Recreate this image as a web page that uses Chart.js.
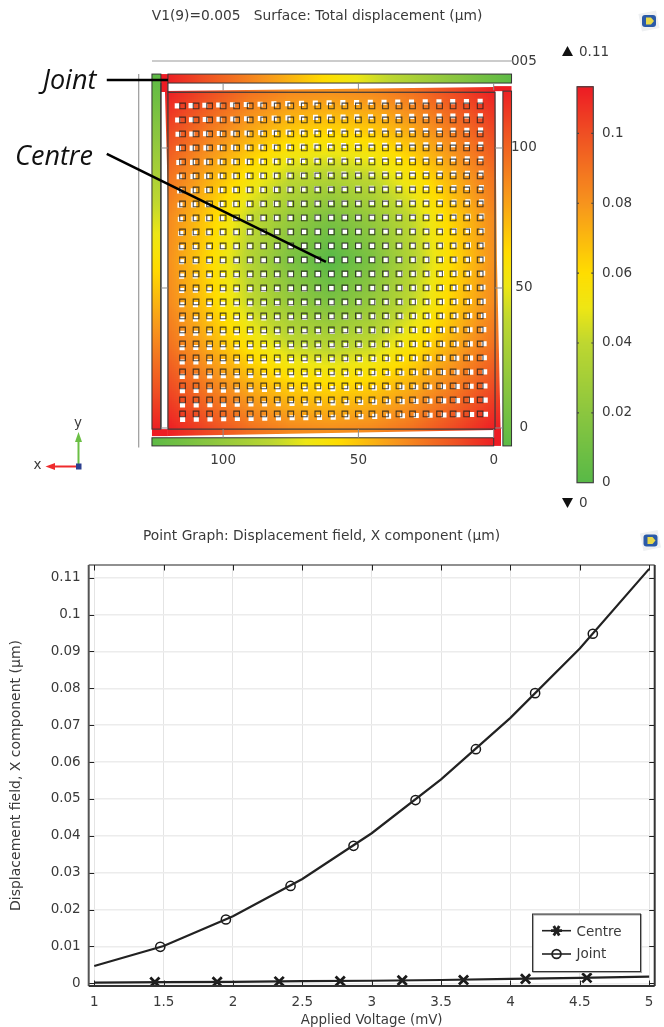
<!DOCTYPE html>
<html><head><meta charset="utf-8">
<style>html,body{margin:0;padding:0;background:#fff;overflow:hidden}canvas{position:absolute;display:block}</style>
<script src="https://cdn.jsdelivr.net/npm/chart.js@4/dist/chart.umd.min.js"></script>
</head><body>
<canvas id="surface" width="664" height="520" style="left:0;top:0"></canvas>
<canvas id="bar" width="104" height="440" style="left:560px;top:70px"></canvas>
<canvas id="graph" width="664" height="507" style="left:0;top:520px"></canvas>
<script>
// ---- values ----
const voltageTicks = [1,1.5,2,2.5,3,3.5,4,4.5,5];
const displacementTicks = [0,0.01,0.02,0.03,0.04,0.05,0.06,0.07,0.08,0.09,0.1,0.11];
const jointVoltage = [1,1.5,2,2.5,3,3.5,4,4.5,5];
const jointValues  = [0.0047,0.0101,0.0182,0.0283,0.0407,0.0553,0.0720,0.0908,0.1124];
const jointMarkerVoltage = [1.476,1.949,2.415,2.869,3.316,3.751,4.178,4.594];
const jointMarkerValues  = [0.0099,0.0173,0.0264,0.0373,0.0497,0.0635,0.0787,0.0948];
const centreVoltage = [1,1.5,2,2.5,3,3.5,4,4.5,5];
const centreValues  = [0.0002,0.0003,0.0004,0.0006,0.0007,0.0009,0.0012,0.0015,0.0018];
const centreMarkerVoltage = [1.437,1.886,2.333,2.773,3.22,3.662,4.109,4.551];
const centreMarkerValues  = [0.0003,0.0004,0.0005,0.0006,0.0008,0.0009,0.0012,0.0015];
const seriesNames = ['Centre','Joint'];

// ---- values (µm and µm displacement) ----
const surfaceXTicks = [0,50,100];
const surfaceYTicks = [0,50,100];
const fieldGrid = [0,15,30,45,60,75,90,105,120];
const fieldValues = [ // rows y=0..120, columns x=0..120
 [0.112,0.101,0.090,0.083,0.081,0.083,0.090,0.101,0.112],
 [0.101,0.086,0.073,0.064,0.061,0.064,0.073,0.086,0.101],
 [0.090,0.073,0.056,0.041,0.036,0.041,0.056,0.073,0.090],
 [0.083,0.064,0.041,0.024,0.014,0.024,0.041,0.064,0.083],
 [0.081,0.061,0.036,0.014,0.000,0.014,0.036,0.061,0.081],
 [0.083,0.064,0.041,0.024,0.014,0.024,0.041,0.064,0.083],
 [0.090,0.073,0.056,0.041,0.036,0.041,0.056,0.073,0.090],
 [0.101,0.086,0.073,0.064,0.061,0.064,0.073,0.086,0.101],
 [0.112,0.101,0.090,0.083,0.081,0.083,0.090,0.101,0.112]];
const holeX = [5,10,15,20,25,30,35,40,45,50,55,60,65,70,75,80,85,90,95,100,105,110,115];
const holeY = [5,10,15,20,25,30,35,40,45,50,55,60,65,70,75,80,85,90,95,100,105,110,115];
const shiftGrid = [0,60,120];
const holeShiftX = [[-2.2,-0.75,0],[-0.9,0,0.4],[0,0.9,2.2]];
const holeShiftY = [[0,-1.25,-2.1],[0.35,0,-0.7],[1.8,1.25,0]];
const colourValues = [0,0.02,0.04,0.05,0.06,0.08,0.1,0.113];
const colourStops = [[88,185,71],[139,198,63],[190,215,48],[238,230,20],[255,221,0],[247,148,29],[239,79,35],[237,28,36]];
const colourbarTicks = [0,0.02,0.04,0.06,0.08,0.1];
const colourbarMax = '0.11', colourbarMin = '0';

// ---- helpers ----
const FONT = '"DejaVu Sans"';
const INK = '#3a3a3a';
function colourFor(v){
  if(v<=colourValues[0]) return `rgb(${colourStops[0]})`;
  for(let i=1;i<colourValues.length;i++){
    if(v<=colourValues[i]){
      const t=(v-colourValues[i-1])/(colourValues[i]-colourValues[i-1]);
      const a=colourStops[i-1],b=colourStops[i];
      return `rgb(${a.map((c,k)=>Math.round(c+(b[k]-c)*t))})`;
    }
  }
  return `rgb(${colourStops[colourStops.length-1]})`;
}
function lerp1(grid,vals,x){
  const n=grid.length; x=Math.max(grid[0],Math.min(grid[n-1],x));
  let i=0; while(i<n-2&&x>grid[i+1]) i++;
  const t=(x-grid[i])/(grid[i+1]-grid[i]);
  return vals[i]+(vals[i+1]-vals[i])*t;
}
function lerp2(grid,table,x,y){
  return lerp1(grid,table.map(r=>lerp1(grid,r,x)),y);
}
function text(ctx,s,x,y,font,color,align){
  ctx.save();ctx.font=font;ctx.fillStyle=color||INK;ctx.textAlign=align||'left';ctx.textBaseline='middle';
  ctx.fillText(s,x,y);ctx.restore();
}
function logo(ctx,x,y){
  ctx.save();ctx.translate(x,y);
  ctx.save();ctx.rotate(-0.2);ctx.fillStyle='#eef0f2';ctx.fillRect(-9,-9,18,18);ctx.restore();
  ctx.fillStyle='#2a5aa8';ctx.beginPath();ctx.roundRect(-7,-6,14,12,3);ctx.fill();
  ctx.fillStyle='#e8d94a';ctx.beginPath();ctx.moveTo(-3,-3.5);ctx.lineTo(2,-3.5);ctx.lineTo(5,0);ctx.lineTo(2,3.5);ctx.lineTo(-3,3.5);ctx.closePath();ctx.fill();
  ctx.restore();
}

// ---- surface plot: field, beams and annotations are drawn through the chart's scales ----
const beams = [ // x0,x1,y0,y1 in µm; values run along 'along'
 {x:[126.3,123],  y:[-0.4,126.4], along:'y', v:[0.112,0.055,0.002]},
 {x:[120.4,-6.6], y:[123.2,126.4],along:'x', v:[0.112,0.055,0.002]},
 {x:[-3.4,-6.6],  y:[-6.4,120.3], along:'y', v:[0.002,0.055,0.112]},
 {x:[126.3,0],    y:[-6.4,-3.5],  along:'x', v:[0.002,0.055,0.112]}
];
const redStrips = [
 {x:[123,120.4], y:[120,126.4]},
 {x:[0,-6.6],    y:[120.3,122.1]},
 {x:[126.3,120.4],y:[-2.9,-0.4]},
 {x:[0,-2.7],    y:[-6.4,0]}
];
const plateOutline = [[121.5,120.4],[-0.5,121.8],[-1.2,60],[-2.7,-6.4],[-0.5,-0.7],[120.4,-2.9],[120.4,81.4]];
const surfacePlugin = {
  id:'surface',
  beforeDatasetsDraw(chart){
    const {ctx,scales:{x:sx,y:sy}}=chart;
    const X=v=>sx.getPixelForValue(v),Y=v=>sy.getPixelForValue(v);
    ctx.save();
    // axis frame
    ctx.strokeStyle='#9a9a9a';ctx.lineWidth=1.2;
    ctx.beginPath();ctx.moveTo(X(131.2),Y(126.4));ctx.lineTo(X(131.2),Y(-7));
    ctx.moveTo(X(126.3),Y(131.07));ctx.lineTo(X(-7.1),Y(131.07));ctx.stroke();
    // plate field, deformed outline
    ctx.save();ctx.beginPath();
    plateOutline.forEach((p,i)=>i?ctx.lineTo(X(p[0]),Y(p[1])):ctx.moveTo(X(p[0]),Y(p[1])));
    ctx.closePath();ctx.clip();
    for(let px=Math.floor(X(123));px<X(-4);px+=2){
      for(let py=Math.floor(Y(123));py<Y(-7);py+=2){
        ctx.fillStyle=colourFor(lerp2(fieldGrid,fieldValues,sx.getValueForPixel(px+1),sy.getValueForPixel(py+1)));
        ctx.fillRect(px,py,2,2);
      }
    }
    ctx.restore();
    // beams
    const red=colourFor(0.113);
    redStrips.forEach(s=>{ctx.fillStyle=red;ctx.fillRect(X(s.x[0]),Y(s.y[1]),X(s.x[1])-X(s.x[0]),Y(s.y[0])-Y(s.y[1]));});
    beams.forEach(b=>{
      const x0=X(b.x[0]),x1=X(b.x[1]),y0=Y(b.y[1]),y1=Y(b.y[0]);
      const g=b.along==='x'?ctx.createLinearGradient(x0,0,x1,0):ctx.createLinearGradient(0,y1,0,y0);
      const vs=b.v;
      for(let k=0;k<=40;k++){
        const t=k/40,f=t*(vs.length-1),i=Math.min(vs.length-2,Math.floor(f));
        g.addColorStop(t,colourFor(vs[i]+(vs[i+1]-vs[i])*(f-i)));
      }
      ctx.fillStyle=g;ctx.fillRect(x0,y0,x1-x0,y1-y0);
      ctx.strokeStyle='#333';ctx.lineWidth=1;ctx.strokeRect(x0,y0,x1-x0,y1-y0);
    });
    // undeformed outlines
    ctx.strokeStyle='#3b3b3b';ctx.lineWidth=1.2;
    ctx.strokeRect(X(120.4),Y(119.9),X(-0.5)-X(120.4),Y(-0.4)-Y(119.9));
    ctx.beginPath();ctx.moveTo(X(123),Y(123.2));ctx.lineTo(X(123),Y(-0.4));ctx.moveTo(X(120.4),Y(123.2));ctx.lineTo(X(120.4),Y(119.9));ctx.stroke();
    ctx.strokeStyle='#8c8c8c';ctx.lineWidth=1;
    ctx.beginPath();
    surfaceXTicks.forEach(v=>{ctx.moveTo(X(v),Y(120.6));ctx.lineTo(X(v),Y(123.2));ctx.moveTo(X(v),Y(-0.4));ctx.lineTo(X(v),Y(-3.5));});
    surfaceYTicks.forEach(v=>{ctx.moveTo(X(123),Y(v));ctx.lineTo(X(120.4),Y(v));ctx.moveTo(X(-0.5),Y(v));ctx.lineTo(X(-3.4),Y(v));});
    ctx.stroke();
    ctx.restore();
  },
  afterDraw(chart){
    const {ctx,scales:{x:sx,y:sy}}=chart;
    const X=v=>sx.getPixelForValue(v),Y=v=>sy.getPixelForValue(v);
    ctx.save();
    // annotation leaders
    ctx.strokeStyle='#000';ctx.lineWidth=2.6;ctx.lineCap='butt';
    ctx.beginPath();
    ctx.moveTo(X(143),Y(124.3));ctx.lineTo(X(120.4),Y(124.3));
    ctx.moveTo(X(143),Y(97.9));ctx.lineTo(X(62),Y(59.3));
    ctx.stroke();
    const lab='italic 27px "Open Sans"';
    text(ctx,'Joint',69.5,81,lab,'#111','center');
    text(ctx,'Centre',54,157,lab,'#111','center');
    // title
    text(ctx,'V1(9)=0.005   Surface: Total displacement (µm)',317,16.5,'13.8px '+FONT,INK,'center');
    // colour-range markers
    ctx.fillStyle='#111';
    ctx.beginPath();ctx.moveTo(562,56);ctx.lineTo(573,56);ctx.lineTo(567.5,46);ctx.closePath();ctx.fill();
    ctx.beginPath();ctx.moveTo(562,498);ctx.lineTo(573,498);ctx.lineTo(567.5,508);ctx.closePath();ctx.fill();
    text(ctx,colourbarMax,579,52,'13.5px '+FONT,INK);
    text(ctx,colourbarMin,579,503,'13.5px '+FONT,INK);
    // view triad
    ctx.strokeStyle='#6bbf45';ctx.fillStyle='#6bbf45';ctx.lineWidth=2;
    ctx.beginPath();ctx.moveTo(78.5,466);ctx.lineTo(78.5,440);ctx.stroke();
    ctx.beginPath();ctx.moveTo(75,442);ctx.lineTo(82,442);ctx.lineTo(78.5,432);ctx.closePath();ctx.fill();
    ctx.strokeStyle='#ef2b2d';ctx.fillStyle='#ef2b2d';
    ctx.beginPath();ctx.moveTo(78,466.5);ctx.lineTo(52,466.5);ctx.stroke();
    ctx.beginPath();ctx.moveTo(55,463);ctx.lineTo(55,470);ctx.lineTo(45.5,466.5);ctx.closePath();ctx.fill();
    ctx.fillStyle='#2c3f8f';ctx.fillRect(76,463.5,5.5,6);
    text(ctx,'y',78,423,'13.5px '+FONT,INK,'center');
    text(ctx,'x',37.5,465,'13.5px '+FONT,INK,'center');
    logo(ctx,649,21);
    ctx.restore();
  }
};

const whiteHoles=[],outlineHoles=[];
holeY.forEach(y=>holeX.forEach(x=>{
  outlineHoles.push({x,y});
  whiteHoles.push({x:x+lerp2(shiftGrid,holeShiftX,x,y),y:y+lerp2(shiftGrid,holeShiftY,x,y)});
}));
const OFF={animation:false,responsive:false,devicePixelRatio:1};
new Chart(document.getElementById('surface'),{
  type:'scatter',
  data:{datasets:[
    {label:'hole outline',data:outlineHoles,pointStyle:'rect',pointRadius:4,pointBorderWidth:1.1,pointBorderColor:'rgba(30,30,30,0.8)',pointBackgroundColor:'rgba(0,0,0,0)',order:0},
    {label:'deformed hole',data:whiteHoles,pointStyle:'rect',pointRadius:3.6,pointBorderWidth:0,pointBackgroundColor:'#fff',order:1}
  ]},
  plugins:[surfacePlugin],
  options:{...OFF,
    layout:{padding:{left:138.7,right:127,top:61,bottom:42.3}},
    plugins:{legend:{display:false},tooltip:{enabled:false},title:{display:false}},
    scales:{
      x:{type:'linear',reverse:true,min:-6.4,max:131.2,position:'bottom',
        afterBuildTicks(s){s.ticks=surfaceXTicks.map(value=>({value}));},
        afterFit(s){s.height=30;},
        grid:{display:false,drawTicks:false},border:{display:false},
        ticks:{color:INK,font:{family:FONT,size:13.5},padding:5,maxRotation:0,autoSkip:false}},
      y:{type:'linear',min:-7.04,max:131.07,position:'right',
        afterBuildTicks(s){s.ticks=[...surfaceYTicks.map(value=>({value})),{value:131.07}];},
        afterFit(s){s.width=26;},
        grid:{display:false,drawTicks:false},border:{display:false},
        ticks:{color:INK,font:{family:FONT,size:13.5},padding:0,crossAlign:'center',autoSkip:false,
          callback:v=>v>120?'005':String(v)}}
    }
  }
});

// ---- colour bar ----
const colourbarPlugin={
  id:'colourbar',
  beforeDatasetsDraw(chart){
    const {ctx,chartArea:a,scales:{y}}=chart;
    ctx.save();
    for(let py=Math.floor(a.top);py<a.bottom;py++){
      ctx.fillStyle=colourFor(y.getValueForPixel(py+0.5));
      ctx.fillRect(a.left,py,a.right-a.left,1);
    }
    ctx.strokeStyle='#444';ctx.lineWidth=1.2;ctx.strokeRect(a.left,a.top,a.right-a.left,a.bottom-a.top);
    ctx.beginPath();
    colourbarTicks.slice(1).forEach(v=>{const p=y.getPixelForValue(v);
      ctx.moveTo(a.left,p);ctx.lineTo(a.left+2,p);ctx.moveTo(a.right,p);ctx.lineTo(a.right-2,p);});
    ctx.stroke();
    ctx.restore();
  }
};
new Chart(document.getElementById('bar'),{
  type:'scatter',data:{datasets:[{data:[]}]},plugins:[colourbarPlugin],
  options:{...OFF,
    layout:{padding:{left:17,right:0,top:16,bottom:440-412.7}},
    plugins:{legend:{display:false},tooltip:{enabled:false}},
    scales:{
      x:{display:false,min:0,max:1},
      y:{type:'linear',position:'right',min:0,max:0.11334,
        afterBuildTicks(s){s.ticks=colourbarTicks.map(value=>({value}));},
        afterFit(s){s.width=104-33.3;},
        grid:{display:false,drawTicks:false},border:{display:false},
        ticks:{color:INK,font:{family:FONT,size:13.5},padding:8.7,autoSkip:false,callback:v=>String(v)}}
    }
  }
});

// ---- point graph ----
const graphPlugin={
  id:'graphFrame',
  afterDatasetsDraw(chart){
    const {ctx,chartArea:a,scales:{x,y}}=chart;
    ctx.save();
    ctx.strokeStyle='#222';ctx.lineWidth=1;ctx.beginPath();
    voltageTicks.forEach(v=>{const p=Math.round(x.getPixelForValue(v))+.5;
      ctx.moveTo(p,a.top);ctx.lineTo(p,a.top+5.5);ctx.moveTo(p,a.bottom);ctx.lineTo(p,a.bottom-5.5);});
    displacementTicks.forEach(v=>{const p=Math.round(y.getPixelForValue(v))+.5;
      ctx.moveTo(a.left,p);ctx.lineTo(a.left+5.5,p);ctx.moveTo(a.right,p);ctx.lineTo(a.right-5.5,p);});
    ctx.stroke();
    // frame
    ctx.strokeStyle='#222';ctx.lineWidth=1.2;
    ctx.beginPath();ctx.moveTo(a.left,a.top);ctx.lineTo(a.right,a.top);ctx.stroke();
    ctx.strokeStyle='#555';ctx.lineWidth=2;
    ctx.beginPath();ctx.moveTo(a.left,a.top);ctx.lineTo(a.left,a.bottom);ctx.stroke();
    ctx.strokeStyle='#333';
    ctx.beginPath();ctx.moveTo(a.left,a.bottom);ctx.lineTo(a.right,a.bottom);ctx.moveTo(a.right,a.bottom);ctx.lineTo(a.right,a.top);ctx.stroke();
    // legend box
    const bx=532.5,by=394,bw=108,bh=57.5;
    ctx.fillStyle='#fff';ctx.fillRect(bx,by,bw,bh);
    ctx.strokeStyle='#aaa';ctx.lineWidth=1.5;ctx.strokeRect(bx+.8,by+.8,bw,bh);
    ctx.strokeStyle='#333';ctx.lineWidth=1;ctx.strokeRect(bx,by,bw,bh);
    const rows=[410.7,434];
    rows.forEach((ry,i)=>{
      ctx.strokeStyle='#222';ctx.lineWidth=1.6;
      ctx.beginPath();ctx.moveTo(542,ry);ctx.lineTo(571,ry);ctx.stroke();
      ctx.beginPath();
      if(i===0){
        ctx.lineWidth=2.8;
        for(let k=0;k<3;k++){const t=k*Math.PI/3+Math.PI/3;
          ctx.moveTo(556.5-5.5*Math.cos(t),ry-5.5*Math.sin(t));ctx.lineTo(556.5+5.5*Math.cos(t),ry+5.5*Math.sin(t));}
      }else{
        ctx.lineWidth=1.8;
        ctx.arc(556.5,ry,4.4,0,Math.PI*2);
      }
      ctx.stroke();
      text(ctx,seriesNames[i],576.5,ry+2-i*2,'13.5px '+FONT,INK);
    });
    ctx.restore();
  },
  afterDraw(chart){
    const {ctx}=chart;
    text(ctx,'Point Graph: Displacement field, X component (µm)',321.5,16.5,'13.8px '+FONT,INK,'center');
    logo(ctx,650.5,20.5);
  }
};
const lineStyle={showLine:true,borderColor:'#222',borderWidth:2.2,pointRadius:0,tension:0,fill:false};
const markStyle={showLine:false,pointBorderColor:'#1a1a1a',pointBackgroundColor:'rgba(0,0,0,0)'};
const pair=(xs,ys)=>xs.map((x,i)=>({x,y:ys[i]}));
new Chart(document.getElementById('graph'),{
  type:'scatter',
  data:{datasets:[
    {label:seriesNames[0],data:pair(centreVoltage,centreValues),...lineStyle,pointStyle:false},
    {label:seriesNames[0]+' markers',data:pair(centreMarkerVoltage,centreMarkerValues),...markStyle,pointStyle:'crossRot',pointRadius:6.5,pointBorderWidth:2.8},
    {label:seriesNames[1],data:pair(jointVoltage,jointValues),...lineStyle,pointStyle:false},
    {label:seriesNames[1]+' markers',data:pair(jointMarkerVoltage,jointMarkerValues),...markStyle,pointStyle:'circle',pointRadius:4.6,pointBorderWidth:1.5}
  ]},
  plugins:[graphPlugin],
  options:{...OFF,
    layout:{padding:{left:0,right:9,top:45,bottom:0}},
    plugins:{legend:{display:false},tooltip:{enabled:false}},
    scales:{
      x:{type:'linear',min:0.96,max:5.04,
        afterBuildTicks(s){s.ticks=voltageTicks.map(value=>({value}));},
        afterFit(s){s.height=41;},
        grid:{color:'#e4e4e4',lineWidth:1,drawTicks:false},border:{display:false},
        ticks:{color:INK,font:{family:FONT,size:13.5},padding:8,maxRotation:0,autoSkip:false,callback:v=>String(v)},
        title:{display:true,text:'Applied Voltage (mV)',color:INK,font:{family:FONT,size:13.4},padding:{top:2,bottom:-2}}},
      y:{type:'linear',min:-0.00073,max:0.11345,
        afterBuildTicks(s){s.ticks=displacementTicks.map(value=>({value}));},
        afterFit(s){s.width=88.7;},
        grid:{color:'#ececec',lineWidth:1.5,drawTicks:false},border:{display:false},
        ticks:{color:INK,font:{family:FONT,size:13.5},padding:8,autoSkip:false,callback:v=>String(v)},
        title:{display:true,text:'Displacement field, X component (µm)',color:INK,font:{family:FONT,size:14},padding:{top:8,bottom:0}}}
    }
  }
});
</script>
</body></html>
